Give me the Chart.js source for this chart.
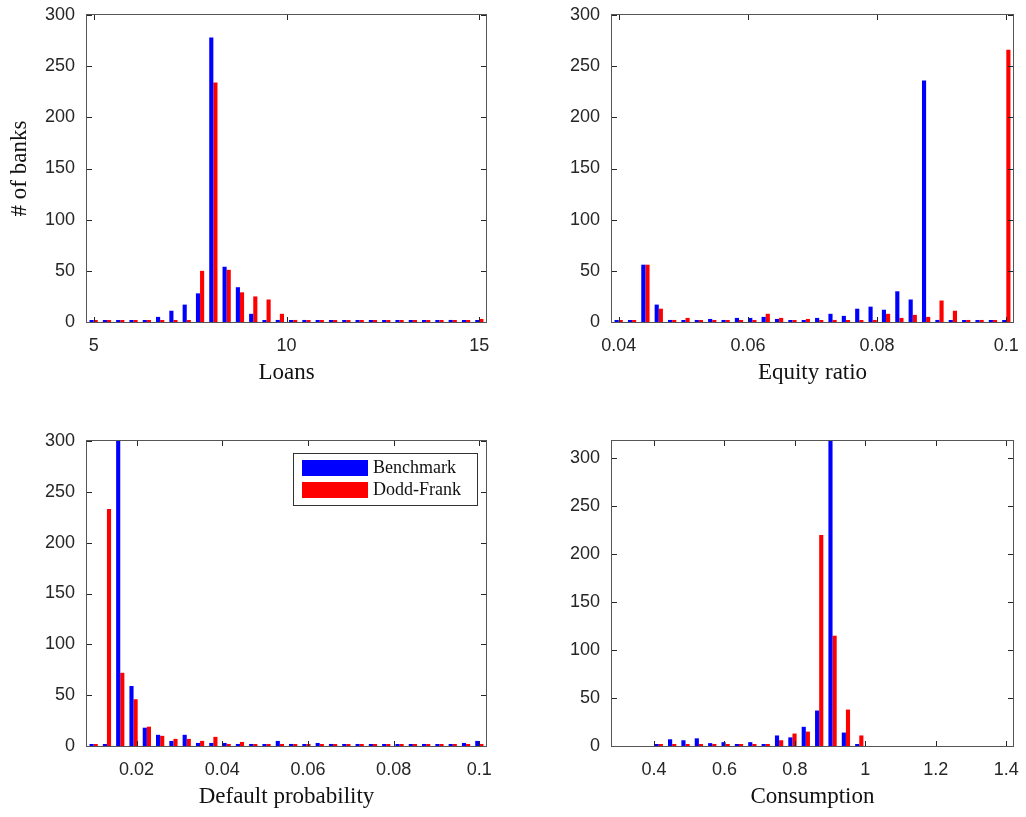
<!DOCTYPE html>
<html lang="en">
<head>
<meta charset="UTF-8">
<title>Benchmark vs Dodd-Frank: distribution of banks</title>
<script src="https://cdn.jsdelivr.net/npm/chart.js"></script>
<style>
  body { margin: 0; background: #fff; }
  canvas { position: absolute; }
</style>
</head>
<body>
<canvas id="loans" width="513" height="408" style="left:0;top:0"></canvas>
<canvas id="equity" width="513" height="408" style="left:513px;top:0"></canvas>
<canvas id="default" width="513" height="409" style="left:0;top:408px"></canvas>
<canvas id="consumption" width="513" height="409" style="left:513px;top:408px"></canvas>
<script>
// histogram counts, 30 bins per panel
const loansBenchmark = [0, 0, 0, 0, 1, 5, 11, 17, 28, 278, 54, 34, 8, 0, 2, 1, 2, 0, 0, 1, 1, 0, 0, 0, 0, 0, 1, 2, 0, 0];
const loansDoddFrank = [0, 0, 0, 0, 0, 0, 0, 1, 50, 234, 51, 29, 25, 22, 8, 2, 0, 0, 0, 1, 0, 0, 0, 0, 0, 1, 0, 0, 0, 3];

const equityBenchmark = [0, 0, 56, 17, 2, 0, 0, 3, 2, 4, 4, 5, 3, 1, 0, 4, 8, 6, 13, 15, 12, 30, 22, 236, 2, 0, 0, 0, 0, 0];
const equityDoddFrank = [0, 0, 56, 13, 2, 4, 0, 0, 0, 1, 1, 8, 4, 0, 3, 1, 2, 1, 1, 2, 8, 4, 7, 5, 21, 11, 2, 2, 0, 266];

const defaultBenchmark = [0, 0, 310, 59, 18, 11, 5, 11, 3, 3, 3, 2, 2, 1, 5, 2, 1, 3, 2, 0, 2, 1, 0, 0, 1, 2, 0, 1, 3, 5];
const defaultDoddFrank = [0, 233, 72, 46, 19, 10, 7, 7, 5, 9, 2, 4, 1, 2, 2, 0, 0, 1, 0, 1, 1, 0, 0, 0, 0, 0, 1, 0, 0, 2];

const consBenchmark = [null, null, null, 1, 7, 6, 8, 3, 4, 1, 4, 2, 11, 9, 20, 37, 318, 14, 0, null, null, null, null, null, null, null, null, null, null, null];
const consDoddFrank = [null, null, null, 0, 0, 0, 0, 1, 1, 2, 2, 1, 6, 13, 15, 220, 115, 38, 11, null, null, null, null, null, null, null, null, null, null, null];

// bin ranges (first and last bin centre)
const loansRange = [5, 15];
const equityRange = [0.04, 0.1];
const defaultRange = [0.01, 0.1];
const consRange = [0.3, 1.4];

// tick labels
const loansTicks = [5, 10, 15];
const equityTicks = [0.04, 0.06, 0.08, 0.1];
const defaultTicks = [0.02, 0.04, 0.06, 0.08, 0.1];
const consTicks = [0.4, 0.6, 0.8, 1, 1.2, 1.4];
const countTicks = [0, 50, 100, 150, 200, 250, 300];

const seriesNames = ['Benchmark', 'Dodd-Frank'];
const seriesColors = ['#0000ff', '#ff0000'];

const tickFont = { family: 'Liberation Sans', size: 18 };
const titleFont = { family: 'Liberation Serif', size: 23 };
const axisColor = '#262626';

function binCenters(range, n) {
    const step = (range[1] - range[0]) / (n - 1);
    const out = [];
    for (let i = 0; i < n; i++) out.push(range[0] + i * step);
    return out;
}

// axes box with inward ticks on all four sides, plus the boxed legend
const frame = {
    id: 'frame',
    afterDatasetsDraw(chart, args, opts) {
        const { ctx, chartArea: a, scales: { x, y } } = chart;
        ctx.save();
        ctx.strokeStyle = axisColor;
        ctx.lineWidth = 1;
        ctx.beginPath();
        x.ticks.forEach(t => {
            const px = Math.round(x.getPixelForValue(t.value)) + 0.5;
            ctx.moveTo(px, a.bottom); ctx.lineTo(px, a.bottom - 5);
            ctx.moveTo(px, a.top); ctx.lineTo(px, a.top + 5);
        });
        y.ticks.forEach(t => {
            const py = Math.round(y.getPixelForValue(t.value)) + 0.5;
            ctx.moveTo(a.left, py); ctx.lineTo(a.left + 5, py);
            ctx.moveTo(a.right, py); ctx.lineTo(a.right - 5, py);
        });
        ctx.stroke();
        ctx.strokeStyle = '#555';
        ctx.strokeRect(a.left - 0.5, a.top - 0.5, a.right - a.left + 1, a.bottom - a.top + 1);

        if (opts.legend) {
            const bx = a.right - 193, by = a.top + 12, bw = 184, bh = 52;
            ctx.fillStyle = '#fff';
            ctx.fillRect(bx, by, bw, bh);
            ctx.strokeStyle = '#333';
            ctx.strokeRect(bx + 0.5, by + 0.5, bw, bh);
            ctx.font = '18px "Liberation Serif"';
            ctx.textBaseline = 'middle';
            chart.data.datasets.forEach((ds, i) => {
                const sy = by + 7 + i * 22;
                ctx.fillStyle = ds.backgroundColor;
                ctx.fillRect(bx + 9, sy, 66, 16);
                ctx.fillStyle = '#111';
                ctx.fillText(ds.label, bx + 80, sy + 8);
            });
        }
        ctx.restore();
    }
};

function histPanel(id, p) {
    const centers = binCenters(p.range, p.benchmark.length);
    const points = arr => arr.map((v, i) => ({ x: centers[i], y: v }));
    const half = (centers[1] - centers[0]) / 2;
    return new Chart(document.getElementById(id), {
        type: 'bar',
        data: {
            datasets: [p.benchmark, p.doddFrank].map((arr, i) => ({
                label: seriesNames[i],
                data: points(arr),
                backgroundColor: seriesColors[i]
            }))
        },
        options: {
            responsive: false,
            animation: false,
            layout: { padding: { top: p.top, right: p.right, left: 0, bottom: 0 } },
            datasets: { bar: { categoryPercentage: 0.62, barPercentage: 1, minBarLength: 2, borderWidth: 0 } },
            plugins: {
                legend: { display: false },
                tooltip: { enabled: false },
                frame: { legend: !!p.legend }
            },
            scales: {
                x: {
                    type: 'linear',
                    offset: false,
                    min: p.range[0] - half,
                    max: p.range[1] + half,
                    afterBuildTicks: s => { s.ticks = p.xTicks.map(v => ({ value: v })); },
                    afterFit: s => { s.height = p.xHeight; s.paddingLeft = 0; s.paddingRight = 0; },
                    grid: { display: false, drawTicks: false, offset: false },
                    border: { display: false },
                    ticks: { padding: 13, color: axisColor, font: tickFont, maxRotation: 0, callback: v => String(v) },
                    title: { display: true, text: p.xTitle, color: '#111', font: titleFont, padding: { top: 0, bottom: p.titlePad } }
                },
                y: {
                    min: 0,
                    max: p.yMax,
                    afterBuildTicks: s => { s.ticks = countTicks.map(v => ({ value: v })); },
                    afterFit: s => { s.width = p.yWidth; s.paddingTop = 0; s.paddingBottom = 0; },
                    grid: { display: false, drawTicks: false },
                    border: { display: false },
                    ticks: { padding: 12, color: axisColor, font: tickFont },
                    title: { display: !!p.yTitle, text: p.yTitle || '', color: '#111', font: titleFont, padding: { top: 6, bottom: 0 } }
                }
            }
        },
        plugins: [frame]
    });
}

histPanel('loans', {
    benchmark: loansBenchmark, doddFrank: loansDoddFrank, range: loansRange, xTicks: loansTicks,
    xTitle: 'Loans', yTitle: '# of banks', yMax: 300,
    top: 15, right: 27, yWidth: 87, xHeight: 86, titlePad: 21
});
histPanel('equity', {
    benchmark: equityBenchmark, doddFrank: equityDoddFrank, range: equityRange, xTicks: equityTicks,
    xTitle: 'Equity ratio', yMax: 300,
    top: 15, right: 13, yWidth: 99, xHeight: 86, titlePad: 21
});
histPanel('default', {
    benchmark: defaultBenchmark, doddFrank: defaultDoddFrank, range: defaultRange, xTicks: defaultTicks,
    xTitle: 'Default probability', yMax: 300, legend: true,
    top: 33, right: 27, yWidth: 87, xHeight: 71, titlePad: 6
});
histPanel('consumption', {
    benchmark: consBenchmark, doddFrank: consDoddFrank, range: consRange, xTicks: consTicks,
    xTitle: 'Consumption', yMax: 318,
    top: 33, right: 13, yWidth: 99, xHeight: 71, titlePad: 6
});
</script>
</body>
</html>
